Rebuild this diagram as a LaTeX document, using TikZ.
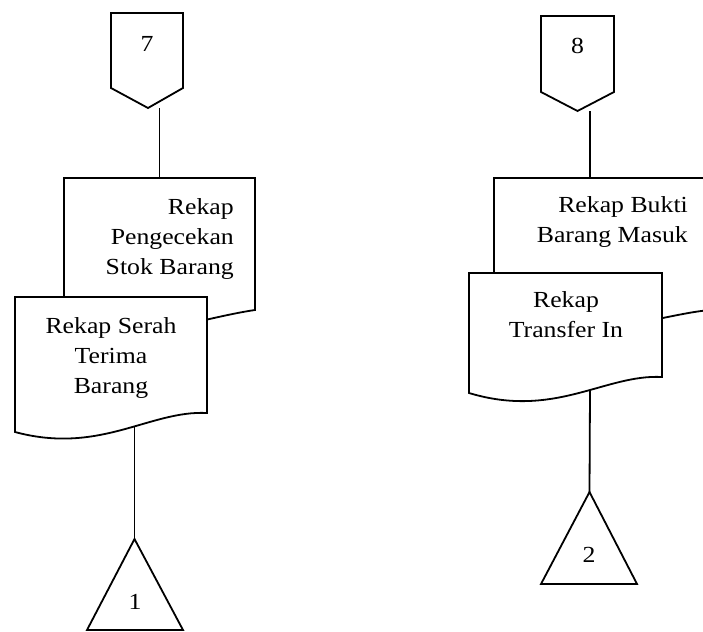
\documentclass[tikz,border=0pt]{standalone}
\usepackage{fontspec}
\setmainfont[FakeStretch=1.12]{Liberation Serif}
\usetikzlibrary{calc}

\tikzset{
  flow/.style={line width=1.8pt, line join=miter},
  lbl/.style={font=\fontsize{23}{30}\selectfont, inner sep=0pt},
}

\begin{document}
\begin{tikzpicture}[x=1pt,y=-1pt]
    \useasboundingbox (0,0) rectangle (703,631);
    \clip (0,0) rectangle (703,631);
    % off-page connectors
    \draw[flow] (111,13) -- (183,13) -- (183,88) -- (148,108) coordinate (tipA) -- (111,88) -- cycle;
    \node[lbl] (conA) at (147,44) {7};
    \draw[flow] (541,16) -- (614,16) -- (614,92) -- (577.5,111) coordinate (tipB) -- (541,92) -- cycle;
    \node[lbl] (conB) at (577.5,46) {8};
    %
    \filldraw[flow, fill=white] (64,178) coordinate (cornA) -- (255,178) -- (255,310) .. controls (200,318) and (130,345) .. (64,330) -- cycle;
    \coordinate (topA) at (159.5,178);
    \node[lbl, align=right, anchor=east] (docA) at (234,239) {Rekap\\Pengecekan\\Stok Barang};
    \filldraw[flow, fill=white] (15,297) -- (207,297) -- (207,413) .. controls (150,410) and (100,455) .. (15,432) -- cycle;
    \node[lbl, align=center] (docB) at (111,358) {Rekap Serah\\Terima\\Barang};
    \coordinate (botB) at (134.5,427);
    \draw[flow] (134.5,539) coordinate (apexA) -- (183,630) -- (87,630) -- cycle;
    \node[lbl] (triA) at (135,602) {1};
    %
    \filldraw[flow, fill=white] (494,178) -- (712,178) -- (712,310) .. controls (670,312) and (580,345) .. (494,330) -- cycle;
    \coordinate (topC) at (590,178);
    \node[lbl, align=right, anchor=east] (docC) at (688,222) {Rekap Bukti\\Barang Masuk};
    \filldraw[flow, fill=white] (469,273) -- (662,273) -- (662,377) .. controls (605,374) and (555,419) .. (469,393) -- cycle;
    \node[lbl, align=center] (docD) at (566,315) {Rekap\\Transfer In};
    \coordinate (botD) at (590,390);
    \draw[flow] (589.5,492) coordinate (apexB) -- (637,584) -- (541,584) -- cycle;
    \node[lbl] (triB) at (589,555) {2};
    %
    \draw[flow] (topA) -- (topA |- tipA);
    \draw[flow] (botB) -- (apexA);
    \draw[flow] (topC) -- (topC |- tipB);
    \draw[flow] (botD) -- (apexB);
\end{tikzpicture}
\end{document}
